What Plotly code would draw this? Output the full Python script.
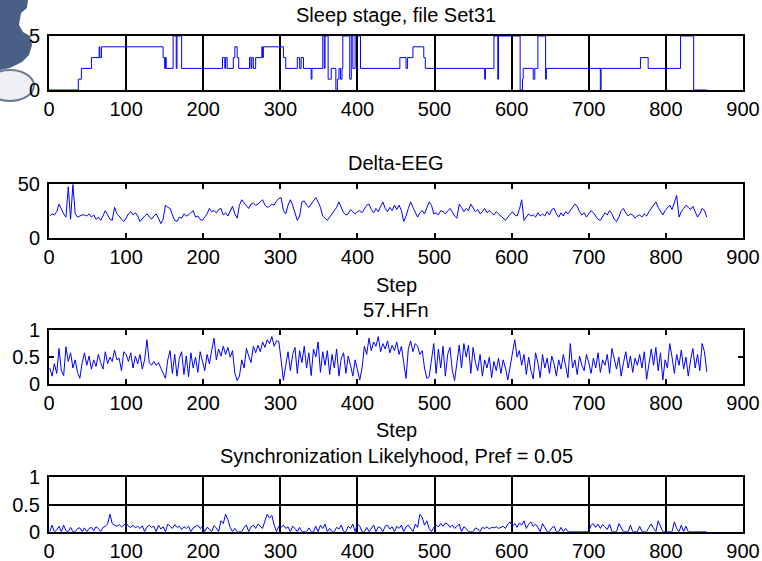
import plotly.graph_objects as go

W, H = 762, 561

# ---------------- data ----------------
# Sleep stage hypnogram: (step where value starts, value)
stage_steps = [0, 38, 42, 55, 65, 66, 68, 148, 150, 151, 152, 161, 165, 166, 172,
               225, 228, 229, 231, 239, 241, 244, 246, 260, 262, 263, 265, 268, 276, 277, 278,
               304, 307, 322, 325, 327, 330, 340, 341, 355, 357, 358, 362, 366, 372, 374, 376,
               378, 380, 381, 390, 392, 394, 397, 404, 455, 463, 465, 472, 486, 488,
               565, 566, 577, 582, 583, 611, 614, 615, 628, 630, 634, 644, 645,
               715, 716, 767, 777, 819, 836, 853]
stage_vals = [0, 1, 2, 3, 4, 3, 4, 3, 2, 3, 2, 5, 2, 5, 2,
              3, 2, 3, 2, 3, 4, 3, 2, 3, 2, 3, 2, 3, 4, 3, 4,
              3, 2, 3, 2, 3, 2, 1, 2, 5, 2, 5, 1, 2, 0, 1, 2,
              1, 2, 5, 1, 5, 2, 5, 2, 3, 2, 3, 4, 3, 2,
              1, 2, 5, 1, 5, 0, 1, 2, 1, 2, 5, 1, 2,
              0, 2, 3, 2, 5, 0, 0]

# sampled steps for the continuous signals (every 3rd step)
signal_steps = list(range(1, 854, 3))

delta_eeg = [
    20, 22, 21, 24, 31, 26, 22, 19, 47, 17, 49, 22, 19, 20, 21,
    21, 20, 22, 19, 21, 17, 19, 16, 20, 25, 21, 17, 16, 28, 22,
    20, 17, 15, 18, 22, 24, 21, 23, 20, 15, 18, 20, 22, 19, 17,
    20, 22, 18, 13, 17, 30, 28, 27, 21, 16, 15, 19, 18, 22, 20,
    21, 23, 25, 19, 20, 17, 16, 19, 22, 27, 24, 25, 23, 26, 27,
    21, 23, 20, 24, 29, 22, 18, 30, 35, 32, 29, 27, 31, 32, 30,
    31, 33, 35, 30, 28, 29, 31, 30, 34, 36, 37, 25, 22, 30, 35,
    30, 22, 16, 20, 33, 34, 30, 28, 31, 35, 37, 33, 28, 20, 18,
    16, 19, 22, 24, 28, 33, 27, 23, 21, 22, 26, 24, 22, 24, 25,
    23, 27, 30, 31, 26, 23, 27, 24, 29, 33, 27, 24, 28, 25, 30,
    26, 30, 25, 15, 20, 27, 33, 28, 24, 19, 23, 25, 22, 28, 33,
    30, 22, 23, 21, 25, 24, 22, 25, 27, 24, 20, 18, 31, 28, 24,
    27, 25, 31, 28, 24, 26, 22, 24, 27, 23, 25, 23, 21, 24, 22,
    20, 18, 16, 19, 22, 24, 21, 20, 26, 35, 16, 19, 22, 20, 21,
    19, 23, 20, 22, 20, 24, 21, 26, 27, 22, 19, 23, 20, 24, 22,
    25, 28, 31, 29, 24, 21, 23, 19, 22, 25, 23, 20, 17, 16, 20,
    23, 21, 25, 22, 17, 15, 19, 25, 27, 23, 20, 22, 21, 18, 20,
    21, 19, 22, 20, 24, 27, 30, 33, 28, 24, 21, 25, 28, 30, 26,
    32, 39, 19, 24, 27, 30, 28, 26, 29, 24, 19, 22, 27, 25, 19,
]

hfn = [
    0.30, 0.15, 0.38, 0.20, 0.66, 0.25, 0.16, 0.69, 0.42, 0.58, 0.30, 0.45, 0.22, 0.11, 0.40,
    0.58, 0.35, 0.52, 0.28, 0.45, 0.33, 0.55, 0.40, 0.28, 0.60, 0.38, 0.50, 0.42, 0.63, 0.45,
    0.48, 0.25, 0.60, 0.55, 0.42, 0.58, 0.30, 0.52, 0.38, 0.55, 0.28, 0.45, 0.82, 0.40, 0.35,
    0.42, 0.35, 0.40, 0.30, 0.20, 0.11, 0.45, 0.62, 0.20, 0.55, 0.15, 0.48, 0.60, 0.18, 0.52,
    0.14, 0.58, 0.30, 0.50, 0.22, 0.60, 0.45, 0.25, 0.55, 0.38, 0.62, 0.85, 0.45, 0.65, 0.52,
    0.70, 0.55, 0.68, 0.50, 0.62, 0.20, 0.07, 0.15, 0.45, 0.30, 0.66, 0.52, 0.40, 0.70, 0.58,
    0.72, 0.60, 0.78, 0.68, 0.82, 0.75, 0.88, 0.70, 0.80, 0.79, 0.45, 0.07, 0.35, 0.60, 0.25,
    0.55, 0.68, 0.20, 0.62, 0.40, 0.70, 0.30, 0.58, 0.16, 0.65, 0.50, 0.78, 0.22, 0.60, 0.35,
    0.62, 0.18, 0.55, 0.30, 0.65, 0.15, 0.48, 0.58, 0.20, 0.52, 0.35, 0.15, 0.45, 0.25, 0.08,
    0.30, 0.70, 0.55, 0.85, 0.62, 0.78, 0.70, 0.88, 0.60, 0.75, 0.65, 0.80, 0.58, 0.72, 0.62,
    0.78, 0.55, 0.70, 0.40, 0.11, 0.65, 0.80, 0.60, 0.75, 0.70, 0.55, 0.62, 0.30, 0.11, 0.14,
    0.45, 0.75, 0.20, 0.65, 0.30, 0.70, 0.15, 0.55, 0.68, 0.25, 0.07, 0.40, 0.72, 0.30, 0.75,
    0.50, 0.72, 0.20, 0.68, 0.40, 0.25, 0.55, 0.15, 0.45, 0.30, 0.50, 0.12, 0.42, 0.25, 0.48,
    0.20, 0.45, 0.30, 0.08, 0.35, 0.60, 0.82, 0.50, 0.62, 0.35, 0.55, 0.18, 0.50, 0.25, 0.10,
    0.58, 0.40, 0.12, 0.55, 0.30, 0.48, 0.20, 0.52, 0.38, 0.15, 0.45, 0.28, 0.55, 0.32, 0.12,
    0.75, 0.30, 0.45, 0.18, 0.52, 0.35, 0.25, 0.55, 0.40, 0.20, 0.48, 0.30, 0.58, 0.22, 0.45,
    0.35, 0.55, 0.20, 0.66, 0.45, 0.28, 0.50, 0.15, 0.40, 0.60, 0.30, 0.52, 0.22, 0.48, 0.35,
    0.55, 0.30, 0.60, 0.09, 0.40, 0.65, 0.35, 0.68, 0.25, 0.58, 0.08, 0.45, 0.30, 0.75, 0.50,
    0.20, 0.55, 0.35, 0.63, 0.28, 0.50, 0.15, 0.45, 0.66, 0.30, 0.55, 0.25, 0.75, 0.60, 0.23,
]

sync_likelihood = [
    0.00, 0.12, 0.00, 0.03, 0.10, 0.00, 0.12, 0.02, 0.00, 0.08, 0.00, 0.00, 0.06, 0.07, 0.00,
    0.07, 0.00, 0.06, 0.08, 0.02, 0.09, 0.06, 0.00, 0.08, 0.10, 0.14, 0.32, 0.15, 0.12, 0.10,
    0.13, 0.09, 0.12, 0.16, 0.10, 0.08, 0.12, 0.07, 0.10, 0.06, 0.11, 0.00, 0.09, 0.12, 0.08,
    0.10, 0.00, 0.12, 0.05, 0.09, 0.00, 0.14, 0.10, 0.06, 0.13, 0.08, 0.10, 0.04, 0.09, 0.06,
    0.10, 0.00, 0.07, 0.09, 0.12, 0.06, 0.10, 0.00, 0.08, 0.05, 0.00, 0.11, 0.07, 0.00, 0.20,
    0.15, 0.32, 0.22, 0.08, 0.00, 0.06, 0.00, 0.00, 0.00, 0.08, 0.12, 0.00, 0.09, 0.12, 0.06,
    0.14, 0.10, 0.06, 0.20, 0.32, 0.25, 0.30, 0.12, 0.00, 0.10, 0.08, 0.12, 0.06, 0.09, 0.00,
    0.10, 0.06, 0.00, 0.08, 0.00, 0.00, 0.00, 0.07, 0.00, 0.00, 0.10, 0.00, 0.12, 0.06, 0.14,
    0.00, 0.06, 0.00, 0.00, 0.08, 0.05, 0.12, 0.00, 0.00, 0.10, 0.06, 0.14, 0.00, 0.15, 0.10,
    0.00, 0.00, 0.08, 0.00, 0.06, 0.12, 0.00, 0.09, 0.07, 0.00, 0.10, 0.12, 0.05, 0.09, 0.00,
    0.10, 0.06, 0.12, 0.00, 0.09, 0.12, 0.07, 0.00, 0.14, 0.08, 0.32, 0.26, 0.12, 0.20, 0.06,
    0.00, 0.08, 0.12, 0.09, 0.15, 0.10, 0.16, 0.14, 0.08, 0.12, 0.06, 0.10, 0.14, 0.00, 0.09,
    0.06, 0.00, 0.00, 0.00, 0.07, 0.05, 0.00, 0.08, 0.06, 0.09, 0.05, 0.08, 0.07, 0.09, 0.06,
    0.08, 0.10, 0.06, 0.14, 0.18, 0.10, 0.15, 0.08, 0.16, 0.12, 0.20, 0.06, 0.14, 0.18, 0.10,
    0.14, 0.08, 0.00, 0.15, 0.06, 0.00, 0.00, 0.07, 0.10, 0.00, 0.00, 0.08, 0.00, 0.06, 0.00,
    0.00, 0.00, 0.00, 0.00, 0.00, 0.00, 0.00, 0.00, 0.00, 0.12, 0.15, 0.08, 0.14, 0.06, 0.13,
    0.09, 0.04, 0.14, 0.00, 0.00, 0.00, 0.15, 0.06, 0.00, 0.00, 0.00, 0.12, 0.00, 0.00, 0.00,
    0.10, 0.00, 0.00, 0.00, 0.08, 0.14, 0.06, 0.00, 0.20, 0.09, 0.00, 0.00, 0.00, 0.00, 0.00,
    0.18, 0.06, 0.00, 0.12, 0.00, 0.10, 0.00, 0.00, 0.00, 0.00, 0.00, 0.00, 0.00, 0.00, 0.00,
]

x_ticks = [0, 100, 200, 300, 400, 500, 600, 700, 800, 900]
titles = ["Sleep stage, file Set31", "Delta-EEG", "57.HFn",
          "Synchronization Likelyhood, Pref = 0.05"]
y_ranges = [[0, 5], [0, 50], [0, 1], [0, 1]]
y_tickvals = [[0, 5], [0, 50], [0, 0.5, 1], [0, 0.5, 1]]
y_ticktext = [["0", "5"], ["0", "50"], ["0", "0.5", "1"], ["0", "0.5", "1"]]

# ---------------- layout helpers ----------------
def px(x):
    return x / W

def py(y):
    return 1 - y / H

X0, X1 = 49, 743
panels_px = [(36, 90), (183.5, 237.7), (330, 384.3), (477.3, 531.7)]
title_y = [15, 163, 310, 455.5]
FONT = "Liberation Sans, Arial, sans-serif"
FS = 20

fig = go.Figure()

series = [
    (stage_steps, stage_vals, "hv"),
    (signal_steps, delta_eeg, "linear"),
    (signal_steps, hfn, "linear"),
    (signal_steps, sync_likelihood, "linear"),
]

layout = dict(
    width=W, height=H,
    margin=dict(l=0, r=0, t=0, b=0, autoexpand=False),
    paper_bgcolor="white", plot_bgcolor="white",
    showlegend=False,
    font=dict(family=FONT, size=FS, color="black"),
)

annotations = []
for i, ((xs, ys, shape), (top, bot)) in enumerate(zip(series, panels_px)):
    n = i + 1
    xa = "x" if n == 1 else f"x{n}"
    ya = "y" if n == 1 else f"y{n}"
    fig.add_trace(go.Scatter(x=xs, y=ys, mode="lines", xaxis=xa, yaxis=ya,
                             line=dict(color="#0000ff", width=1, shape=shape),
                             hoverinfo="skip"))
    grid_x = i in (0, 3)
    grid_y = i == 3
    layout[f"xaxis{'' if n == 1 else n}"] = dict(
        domain=[px(X0), px(X1)], anchor=ya, range=[0, 900],
        tickvals=x_ticks, ticks="inside", ticklen=5, tickwidth=2,
        tickcolor="black", showline=True, linecolor="black", linewidth=2,
        mirror="ticks", showgrid=grid_x, gridcolor="black", gridwidth=2,
        zeroline=False, tickfont=dict(family=FONT, size=FS, color="black"),
        ticklabelstandoff=0, automargin=False, layer="below traces",
    )
    layout[f"yaxis{'' if n == 1 else n}"] = dict(
        domain=[py(bot), py(top)], anchor=xa, range=y_ranges[i],
        tickvals=y_tickvals[i], ticktext=y_ticktext[i],
        ticks="inside", ticklen=5, tickwidth=2, tickcolor="black",
        showline=True, linecolor="black", linewidth=2, mirror="ticks",
        showgrid=grid_y, gridcolor="black", gridwidth=2, zeroline=False,
        tickfont=dict(family=FONT, size=FS, color="black"),
        ticklabelstandoff=3, automargin=False, layer="below traces",
    )
    annotations.append(dict(text=titles[i], x=px((X0 + X1) / 2), y=py(title_y[i]),
                            xref="paper", yref="paper", showarrow=False,
                            xanchor="center", yanchor="middle",
                            font=dict(family=FONT, size=FS, color="black")))

for ys in (285, 430):
    annotations.append(dict(text="Step", x=px((X0 + X1) / 2), y=py(ys),
                            xref="paper", yref="paper", showarrow=False,
                            xanchor="center", yanchor="middle",
                            font=dict(family=FONT, size=FS, color="black")))

layout["annotations"] = annotations

# decorative logo fragment at the top-left corner
logo = [(0, 0), (28, 0), (27, 8), (21, 13), (19, 25), (23, 32), (30, 36), (32, 45),
        (29, 55), (22, 62), (10, 68), (0, 70)]
path = "M " + " L ".join(f"{px(a):.4f},{py(b):.4f}" for a, b in logo) + " Z"
layout["shapes"] = [
    dict(type="path", path=path, xref="paper", yref="paper",
         fillcolor="#4a5f86", line=dict(width=0), layer="below"),
    dict(type="circle", xref="paper", yref="paper", x0=px(-14), x1=px(34),
         y0=py(101), y1=py(70), fillcolor="#eef0f5",
         line=dict(color="#6a7a9a", width=2), layer="below"),
]

fig.update_layout(**layout)
fig.write_html(
    "out.html",
    config={"displayModeBar": False, "staticPlot": True},
    post_script="document.body.style.margin='0px';document.body.style.overflow='hidden';",
)
